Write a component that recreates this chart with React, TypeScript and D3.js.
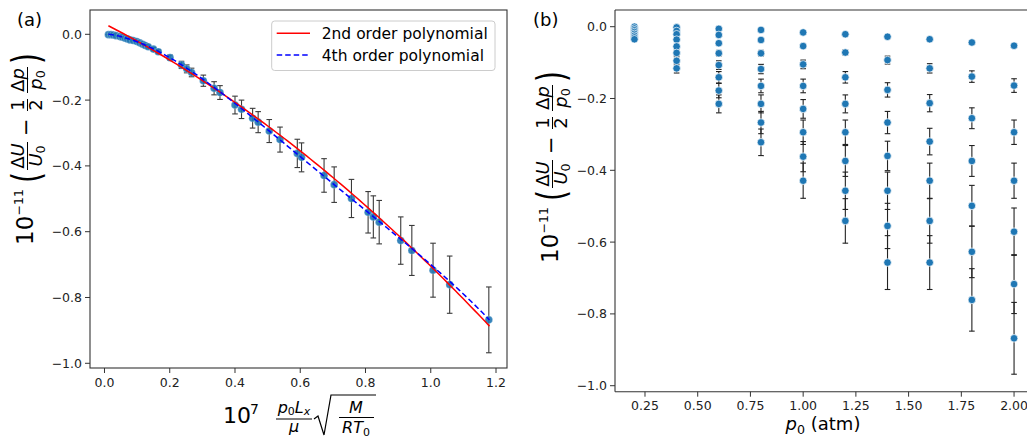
import React from 'react';
import * as d3 from 'd3';

// ---------- data ----------
const leftX = [0.012, 0.020, 0.027, 0.035, 0.047, 0.055, 0.063, 0.070, 0.078, 0.088, 0.099, 0.108, 0.117, 0.125, 0.134, 0.150, 0.165, 0.201, 0.236, 0.252, 0.267, 0.303, 0.336, 0.354, 0.400, 0.420, 0.454, 0.471, 0.505, 0.538, 0.591, 0.604, 0.673, 0.704, 0.757, 0.808, 0.824, 0.842, 0.908, 0.942, 1.007, 1.058, 1.178];
const leftY = [-0.001, -0.001, -0.002, -0.004, -0.007, -0.009, -0.012, -0.014, -0.017, -0.019, -0.022, -0.026, -0.030, -0.034, -0.038, -0.045, -0.053, -0.071, -0.093, -0.105, -0.116, -0.141, -0.164, -0.177, -0.215, -0.228, -0.255, -0.267, -0.294, -0.320, -0.362, -0.374, -0.429, -0.457, -0.499, -0.541, -0.555, -0.571, -0.627, -0.657, -0.717, -0.761, -0.868];
const leftErr = [0.000, 0.000, 0.000, 0.001, 0.001, 0.001, 0.001, 0.002, 0.002, 0.002, 0.003, 0.003, 0.004, 0.004, 0.005, 0.005, 0.006, 0.008, 0.011, 0.012, 0.013, 0.017, 0.020, 0.021, 0.027, 0.028, 0.030, 0.032, 0.035, 0.038, 0.043, 0.044, 0.051, 0.054, 0.058, 0.063, 0.064, 0.066, 0.072, 0.076, 0.082, 0.087, 0.100];

// polynomial fit coefficients (constant term first)
const poly2Coef = [0.0321, -0.5048, -0.2323];
const poly4Coef = [0.002, -0.1005, -1.617, 1.5864, -0.5708];
const fitXRange = [0.012, 1.18];

const rightP = [0.2, 0.4, 0.6, 0.8, 1.0, 1.2, 1.4, 1.6, 1.8, 2.0];
const rightVals = [
  [-0.000, -0.005, -0.010, -0.015, -0.020, -0.025, -0.030, -0.035],
  [-0.002, -0.012, -0.021, -0.036, -0.055, -0.073, -0.095, -0.116],
  [-0.006, -0.023, -0.046, -0.074, -0.107, -0.141, -0.178, -0.215],
  [-0.009, -0.037, -0.074, -0.118, -0.165, -0.215, -0.267, -0.322],
  [-0.016, -0.054, -0.105, -0.165, -0.229, -0.294, -0.362, -0.429],
  [-0.021, -0.072, -0.141, -0.215, -0.294, -0.374, -0.457, -0.541],
  [-0.028, -0.093, -0.176, -0.267, -0.360, -0.457, -0.555, -0.657],
  [-0.035, -0.116, -0.213, -0.320, -0.429, -0.541, -0.657],
  [-0.044, -0.139, -0.255, -0.374, -0.499, -0.627, -0.761],
  [-0.053, -0.164, -0.294, -0.429, -0.571, -0.717, -0.868],
];
const rightErrs = [
  [0.000, 0.001, 0.001, 0.002, 0.002, 0.003, 0.003, 0.004],
  [0.000, 0.001, 0.002, 0.004, 0.006, 0.008, 0.011, 0.013],
  [0.001, 0.003, 0.005, 0.008, 0.012, 0.016, 0.020, 0.025],
  [0.001, 0.004, 0.008, 0.013, 0.019, 0.025, 0.031, 0.037],
  [0.002, 0.006, 0.012, 0.019, 0.026, 0.034, 0.042, 0.049],
  [0.002, 0.008, 0.016, 0.025, 0.034, 0.043, 0.052, 0.062],
  [0.003, 0.011, 0.020, 0.031, 0.041, 0.052, 0.063, 0.075],
  [0.004, 0.013, 0.024, 0.037, 0.049, 0.062, 0.075],
  [0.005, 0.016, 0.029, 0.043, 0.057, 0.072, 0.087],
  [0.006, 0.019, 0.034, 0.049, 0.066, 0.082, 0.100],
];

const leftXTicks = [0, 0.2, 0.4, 0.6, 0.8, 1.0, 1.2];
const yTicks = [0, -0.2, -0.4, -0.6, -0.8, -1.0];
const rightXTicks = [0.25, 0.5, 0.75, 1.0, 1.25, 1.5, 1.75, 2.0];
const legendLabels = ['2nd order polynomial', '4th order polynomial'];

// ---------- layout ----------
const W = 1027, H = 437;
const FONT = "'DejaVu Sans', sans-serif";
const BLUE = '#1f77b4';

const lx = d3.scaleLinear().domain([-0.0444, 1.2337]).range([90, 507]);
const ly = d3.scaleLinear().domain([0.0739, -1.0143]).range([10, 368]);
const rx = d3.scaleLinear().domain([0.1078, 2.0922]).range([615, 1033.5]);
const ry = d3.scaleLinear().domain([0.0465, -1.0167]).range([10, 391.7]);

const fmt1 = (v: number) => d3.format('.1f')(v).replace('-', '−');
const fmt2 = (v: number) => d3.format('.2f')(v).replace('-', '−');

function polyVal(c: number[], x: number) {
  return c.reduce((s, a, i) => s + a * Math.pow(x, i), 0);
}
const fitXs = d3.range(0, 101).map(i => fitXRange[0] + (fitXRange[1] - fitXRange[0]) * i / 100);

function ErrBar({x, y0, y1, color}: {x: number; y0: number; y1: number; color: string}) {
  const c = 2.8;
  return (
    <g stroke={color} strokeWidth={1.1}>
      <line x1={x} x2={x} y1={y0} y2={y1} />
      <line x1={x - c} x2={x + c} y1={y0} y2={y0} />
      <line x1={x - c} x2={x + c} y1={y1} y2={y1} />
    </g>
  );
}

function Frac({cx, F, w, num, den}: {cx: number; F: number; w: number; num: React.ReactNode; den: React.ReactNode}) {
  return (
    <g>
      <text x={cx} y={-9} fontSize={F} textAnchor="middle">{num}</text>
      <line x1={cx - w / 2} x2={cx + w / 2} y1={-5.5} y2={-5.5} stroke="#000" strokeWidth={1} />
      <text x={cx} y={9} fontSize={F} textAnchor="middle">{den}</text>
    </g>
  );
}

function YLabel({x, y}: {x: number; y: number}) {
  const F = 18;
  const sub = (s: string) => <tspan fontSize={F * 0.7} dy={3} fontStyle="normal">{s}</tspan>;
  return (
    <g transform={`translate(${x},${y}) rotate(-90)`} fontFamily={FONT} fill="#000">
      <text x={0} y={0} fontSize={23}>10</text>
      <text x={29.5} y={-10} fontSize={12.5}>−11</text>
      <g transform={`translate(62,7) scale(1,1.4)`}><text fontSize={28}>(</text></g>
      <Frac cx={89} F={F} w={28}
        num={<><tspan>Δ</tspan><tspan fontStyle="italic">U</tspan></>}
        den={<><tspan fontStyle="italic">U</tspan>{sub('0')}</>} />
      <text x={109} y={0} fontSize={21}>−</text>
      <Frac cx={140} F={F} w={12} num={<tspan>1</tspan>} den={<tspan>2</tspan>} />
      <Frac cx={165} F={F} w={26}
        num={<><tspan>Δ</tspan><tspan fontStyle="italic">p</tspan></>}
        den={<><tspan fontStyle="italic">p</tspan>{sub('0')}</>} />
      <g transform={`translate(181,7) scale(1,1.4)`}><text fontSize={28}>)</text></g>
    </g>
  );
}

function LeftXLabel() {
  return (
    <g fontFamily={FONT} fill="#000">
      <text x={223} y={423} fontSize={22}>10</text>
      <text x={250} y={414} fontSize={14}>7</text>
      <text x={294} y={412.5} fontSize={16} textAnchor="middle">
        <tspan fontStyle="italic">p</tspan><tspan fontSize={11} dy={2.5}>0</tspan>
        <tspan fontStyle="italic" dy={-2.5}>L</tspan><tspan fontSize={11} fontStyle="italic" dy={2.5}>x</tspan>
      </text>
      <line x1={276} x2={312} y1={419} y2={419} stroke="#000" strokeWidth={1.1} />
      <text x={294} y={432} fontSize={16} textAnchor="middle" fontStyle="italic">μ</text>
      <path d="M314,419 L318,416 L324,435 L331,395 L376,395" fill="none" stroke="#000" strokeWidth={1.2} />
      <text x={356} y={413} fontSize={16} textAnchor="middle" fontStyle="italic">M</text>
      <line x1={339} x2={374} y1={417.5} y2={417.5} stroke="#000" strokeWidth={1.1} />
      <text x={356} y={433} fontSize={16} textAnchor="middle">
        <tspan fontStyle="italic">RT</tspan><tspan fontSize={11} dy={2.5}>0</tspan>
      </text>
    </g>
  );
}

export default function App() {
  const line2 = d3.line<number>().x(d => lx(d)).y(d => ly(polyVal(poly2Coef, d)));
  const line4 = d3.line<number>().x(d => lx(d)).y(d => ly(polyVal(poly4Coef, d)));
  const [l0, l1] = lx.range();
  const [lt, lb] = ly.range();
  const r0 = rx.range()[0];
  const [rt, rb] = ry.range();
  const tickCol = '#222';
  const spine = '#333';

  return (
    <svg width={W} height={H} style={{position: 'absolute', left: 0, top: 0, background: '#fff'}} fontFamily={FONT}>
      <rect x={0} y={0} width={W} height={H} fill="#fff" />

      {/* ===== left panel ===== */}
      <text x={17} y={26} fontSize={18} fill="#000">(a)</text>
      {yTicks.map(t => (
        <g key={'ly' + t}>
          <line x1={l0 - 5} x2={l0} y1={ly(t)} y2={ly(t)} stroke={spine} strokeWidth={1} />
          <text x={l0 - 8} y={ly(t) + 4.5} fontSize={12.5} textAnchor="end" fill={tickCol}>{fmt1(t)}</text>
        </g>
      ))}
      {leftXTicks.map(t => (
        <g key={'lx' + t}>
          <line x1={lx(t)} x2={lx(t)} y1={lb} y2={lb + 5} stroke={spine} strokeWidth={1} />
          <text x={lx(t)} y={lb + 18.5} fontSize={12.5} textAnchor="middle" fill={tickCol}>{fmt1(t)}</text>
        </g>
      ))}
      {leftX.map((x, i) => (
        <ErrBar key={'le' + i} x={lx(x)} y0={ly(leftY[i] + leftErr[i])} y1={ly(leftY[i] - leftErr[i])} color="#3a3a3a" />
      ))}
      {leftX.map((x, i) => (
        <circle key={'lp' + i} cx={lx(x)} cy={ly(leftY[i])} r={3.8} fill={BLUE} fillOpacity={0.9} stroke="#fff" strokeWidth={0.4} strokeOpacity={0.6} />
      ))}
      <path d={line2(fitXs) || ''} fill="none" stroke="#ff0000" strokeWidth={1.5} />
      <path d={line4(fitXs) || ''} fill="none" stroke="#0000ff" strokeWidth={1.5} strokeDasharray="5.5,3" />
      <rect x={l0} y={lt} width={l1 - l0} height={lb - lt} fill="none" stroke={spine} strokeWidth={1.1} />
      {/* legend */}
      <rect x={271.7} y={21} width={223.3} height={49.5} rx={3} fill="#fff" fillOpacity={0.85} stroke="#cccccc" strokeWidth={1} />
      <line x1={276.7} x2={310} y1={33.3} y2={33.3} stroke="#ff0000" strokeWidth={1.5} />
      <line x1={276.7} x2={310} y1={55} y2={55} stroke="#0000ff" strokeWidth={1.5} strokeDasharray="5.5,3" />
      <text x={321.7} y={39} fontSize={15.5} fill="#000">{legendLabels[0]}</text>
      <text x={321.7} y={60.7} fontSize={15.5} fill="#000">{legendLabels[1]}</text>
      <YLabel x={33} y={245} />
      <LeftXLabel />

      {/* ===== right panel ===== */}
      <text x={533} y={26} fontSize={18} fill="#000">(b)</text>
      {yTicks.map(t => (
        <g key={'ry' + t}>
          <line x1={r0 - 5} x2={r0} y1={ry(t)} y2={ry(t)} stroke={spine} strokeWidth={1} />
          <text x={r0 - 8} y={ry(t) + 4.5} fontSize={12.5} textAnchor="end" fill={tickCol}>{fmt1(t)}</text>
        </g>
      ))}
      {rightXTicks.map(t => (
        <g key={'rx' + t}>
          <line x1={rx(t)} x2={rx(t)} y1={rb} y2={rb + 5} stroke={spine} strokeWidth={1} />
          <text x={rx(t)} y={rb + 17.8} fontSize={12.5} textAnchor="middle" fill={tickCol}>{fmt2(t)}</text>
        </g>
      ))}
      {rightP.map((p, j) => rightVals[j].map((v, i) => (
        <ErrBar key={'re' + j + '_' + i} x={rx(p)} y0={ry(v + rightErrs[j][i])} y1={ry(v - rightErrs[j][i])} color="#222" />
      )))}
      {rightP.map((p, j) => rightVals[j].map((v, i) => (
        <circle key={'rp' + j + '_' + i} cx={rx(p)} cy={ry(v)} r={3.8} fill={BLUE} stroke="#fff" strokeWidth={0.7} />
      )))}
      <line x1={r0} x2={r0} y1={rt} y2={rb} stroke={spine} strokeWidth={1.1} />
      <line x1={r0} x2={W} y1={rt} y2={rt} stroke={spine} strokeWidth={1.1} />
      <line x1={r0} x2={W} y1={rb} y2={rb} stroke={spine} strokeWidth={1.1} />
      <YLabel x={558} y={263} />
      <text x={823} y={430} fontSize={18} textAnchor="middle" fill="#000">
        <tspan fontStyle="italic">p</tspan><tspan fontSize={12.6} dy={4}>0</tspan><tspan dy={-4}> (atm)</tspan>
      </text>
    </svg>
  );
}
